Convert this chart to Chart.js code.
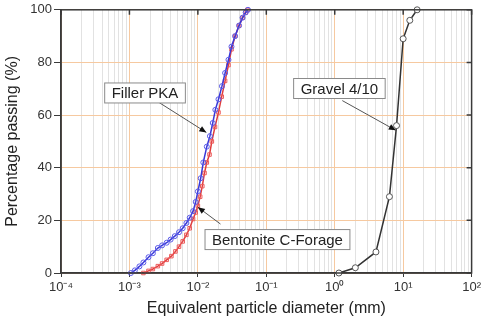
<!DOCTYPE html>
<html>
<head>
<meta charset="utf-8">
<script src="https://cdn.jsdelivr.net/npm/chart.js@4.4.1/dist/chart.umd.min.js"></script>
<style>
  html, body { margin: 0; padding: 0; background: #fff; }
  #wrap { width: 484px; height: 320px; }
</style>
</head>
<body>
<div id="wrap"><canvas id="psd-chart"></canvas></div>
<script>
// diameters in mm, passing in %
const fillerDiam = [1.05e-3, 1.2e-3, 1.4e-3, 1.6e-3, 1.9e-3, 2.2e-3, 2.6e-3, 3.0e-3, 3.5e-3, 4.0e-3, 4.6e-3, 5.3e-3, 6.0e-3, 6.8e-3, 7.6e-3, 8.5e-3, 9.3e-3, 1.0e-2, 1.1e-2, 1.2e-2, 1.35e-2, 1.5e-2, 1.65e-2, 1.8e-2, 2.0e-2, 2.25e-2, 2.5e-2, 2.8e-2, 3.1e-2, 3.5e-2, 4.0e-2, 4.5e-2, 5.0e-2, 5.4e-2];
const fillerPass = [0, 1, 2.5, 4, 6, 7.5, 9.5, 10.5, 11.5, 12.7, 14, 15.5, 17, 19, 21, 23.5, 27, 31, 36, 42, 48, 52, 57, 62, 66, 71, 76, 81, 86, 90, 94, 97, 99, 100];

const bentDiam = [1.6e-3, 1.9e-3, 2.2e-3, 2.6e-3, 3.0e-3, 3.5e-3, 4.1e-3, 4.7e-3, 5.3e-3, 6.0e-3, 6.8e-3, 7.6e-3, 8.5e-3, 9.3e-3, 1.0e-2, 1.08e-2, 1.16e-2, 1.25e-2, 1.35e-2, 1.48e-2, 1.6e-2, 1.78e-2, 2.0e-2, 2.23e-2, 2.5e-2, 2.8e-2, 3.1e-2, 3.5e-2, 4.0e-2, 4.5e-2, 5.0e-2, 5.3e-2];
const bentPass = [0, 0.8, 1.5, 2.6, 3.6, 5, 6.4, 8.2, 10, 12, 14.5, 17, 20.5, 23, 25.5, 29, 33, 38, 42, 45, 50, 55.5, 61, 67, 73, 79, 85, 90, 94, 97, 99, 100];

const gravelDiam = [1.15, 2, 4, 6.3, 8, 10, 12.5, 16];
const gravelPass = [0, 2, 8, 29, 56, 89, 96, 100];

const decades = [1e-4, 1e-3, 1e-2, 1e-1, 1, 10, 100];
const decadeLabels = ['10⁻⁴', '10⁻³', '10⁻²', '10⁻¹', '10⁰', '10¹', '10²'];
const yTicks = [0, 20, 40, 60, 80, 100];

const frameColor = '#3a3a3a';
const majorGrid = '#f6c9a0';
const minorGrid = '#e2e2e2';
const font = "'Liberation Sans', Arial, sans-serif";

const toPts = (xs, ys) => xs.map((x, i) => ({x: x, y: ys[i]}));

// callout boxes, in data coordinates
const notes = [
  {text: 'Filler PKA', box: [1.69e-3, 68.4], from: [2.7e-3, 64.8], to: [1.33e-2, 53.4]},
  {text: 'Gravel 4/10', box: [1.17, 70.1], from: [1.29, 65.5], to: [7.8, 54.2]},
  {text: 'Bentonite C-Forage', box: [0.1456, 12.7], from: [0.0214, 18.6], to: [0.01, 25]}
];

const framePlugin = {
  id: 'frame',
  afterDraw(chart) {
    const {ctx, chartArea: a, scales: {x, y}} = chart;
    ctx.save();
    ctx.strokeStyle = frameColor;
    ctx.lineWidth = 1.5;
    ctx.strokeRect(a.left, a.top, a.right - a.left, a.bottom - a.top);
    ctx.beginPath();
    decades.forEach(d => {
      const px = x.getPixelForValue(d);
      ctx.moveTo(px, a.top);
      ctx.lineTo(px, a.top + 5);
    });
    yTicks.forEach(v => {
      const py = y.getPixelForValue(v);
      ctx.moveTo(a.right, py);
      ctx.lineTo(a.right - 5, py);
    });
    ctx.stroke();

    // callouts
    ctx.font = '15px ' + font;
    ctx.textAlign = 'center';
    ctx.textBaseline = 'middle';
    notes.forEach(n => {
      const fx = x.getPixelForValue(n.from[0]), fy = y.getPixelForValue(n.from[1]);
      const tx = x.getPixelForValue(n.to[0]), ty = y.getPixelForValue(n.to[1]);
      ctx.strokeStyle = '#555';
      ctx.lineWidth = 1;
      ctx.beginPath();
      ctx.moveTo(fx, fy);
      ctx.lineTo(tx, ty);
      ctx.stroke();
      const ang = Math.atan2(ty - fy, tx - fx);
      ctx.fillStyle = '#111';
      ctx.beginPath();
      ctx.moveTo(tx, ty);
      ctx.lineTo(tx - 7 * Math.cos(ang) + 3 * Math.sin(ang), ty - 7 * Math.sin(ang) - 3 * Math.cos(ang));
      ctx.lineTo(tx - 7 * Math.cos(ang) - 3 * Math.sin(ang), ty - 7 * Math.sin(ang) + 3 * Math.cos(ang));
      ctx.closePath();
      ctx.fill();

      const cx = x.getPixelForValue(n.box[0]), cy = y.getPixelForValue(n.box[1]);
      const w = ctx.measureText(n.text).width + 14, h = 20;
      ctx.fillStyle = '#fff';
      ctx.fillRect(cx - w / 2, cy - h / 2, w, h);
      ctx.strokeStyle = '#8a8a8a';
      ctx.strokeRect(cx - w / 2, cy - h / 2, w, h);
      ctx.fillStyle = '#222';
      ctx.fillText(n.text, cx, cy + 1);
    });
    ctx.restore();
  }
};

const config = {
  type: 'line',
  data: {
    datasets: [{
      label: 'Filler PKA',
      data: toPts(fillerDiam, fillerPass),
      borderColor: '#3838d8',
      borderWidth: 1.5,
      pointStyle: 'circle',
      pointRadius: 2.5,
      pointBorderWidth: 1,
      pointBorderColor: '#5a5ae8',
      pointBackgroundColor: 'rgba(255,255,255,0)',
      tension: 0,
      clip: 6
    }, {
      label: 'Bentonite C-Forage',
      data: toPts(bentDiam, bentPass),
      borderColor: '#e03c3c',
      borderWidth: 1.5,
      pointStyle: 'rect',
      pointRadius: 2.5,
      pointBorderWidth: 1,
      pointBorderColor: '#ec5a5a',
      pointBackgroundColor: 'rgba(255,255,255,0)',
      tension: 0,
      clip: 6
    }, {
      label: 'Gravel 4/10',
      data: toPts(gravelDiam, gravelPass),
      borderColor: '#333',
      borderWidth: 1.5,
      pointStyle: 'circle',
      pointRadius: 3,
      pointBorderWidth: 1,
      pointBorderColor: '#555',
      pointBackgroundColor: '#fff',
      tension: 0,
      clip: 6
    }]
  },
  options: {
    responsive: true,
    maintainAspectRatio: false,
    animation: false,
    layout: { padding: {top: 9, right: 8, bottom: 0, left: 0} },
    plugins: {
      legend: { display: false },
      tooltip: { enabled: false }
    },
    scales: {
      x: {
        type: 'logarithmic',
        min: 1e-4,
        max: 100,
        afterBuildTicks: (scale) => {
          const t = [];
          decades.forEach((d, i) => {
            for (let k = 1; k < 10; k++) {
              if (i === decades.length - 1 && k > 1) break;
              t.push({value: d * k, major: k === 1});
            }
          });
          scale.ticks = t;
        },
        afterFit: (scale) => { scale.height = 47; },
        ticks: {
          autoSkip: false,
          maxRotation: 0,
          padding: 3,
          color: '#333',
          font: {family: font, size: 13},
          callback: (v) => {
            const i = decades.findIndex(d => Math.abs(d - v) / d < 1e-6);
            return i >= 0 ? decadeLabels[i] : '';
          }
        },
        grid: {
          color: (c) => (c.tick && c.tick.major) ? majorGrid : minorGrid,
          lineWidth: 1,
          tickLength: 4,
          tickColor: (c) => (c.tick && c.tick.major) ? frameColor : 'rgba(0,0,0,0)'
        },
        border: { color: frameColor, width: 1.5 },
        title: {
          display: true,
          text: 'Equivalent particle diameter (mm)',
          color: '#222',
          font: {family: font, size: 16},
          padding: {top: 0, bottom: 2}
        }
      },
      y: {
        min: 0,
        max: 100,
        afterBuildTicks: (scale) => { scale.ticks = yTicks.map(v => ({value: v})); },
        afterFit: (scale) => { scale.width = 61; },
        ticks: {
          padding: 2,
          color: '#333',
          font: {family: font, size: 13}
        },
        grid: {
          color: majorGrid,
          lineWidth: 1,
          tickLength: 7,
          tickColor: frameColor
        },
        border: { color: frameColor, width: 1.5 },
        title: {
          display: true,
          text: 'Percentage passing (%)',
          color: '#222',
          font: {family: font, size: 16},
          padding: {top: 3, bottom: 0}
        }
      }
    }
  },
  plugins: [framePlugin]
};

const psdChart = new Chart(document.getElementById('psd-chart'), config);
</script>
</body>
</html>
